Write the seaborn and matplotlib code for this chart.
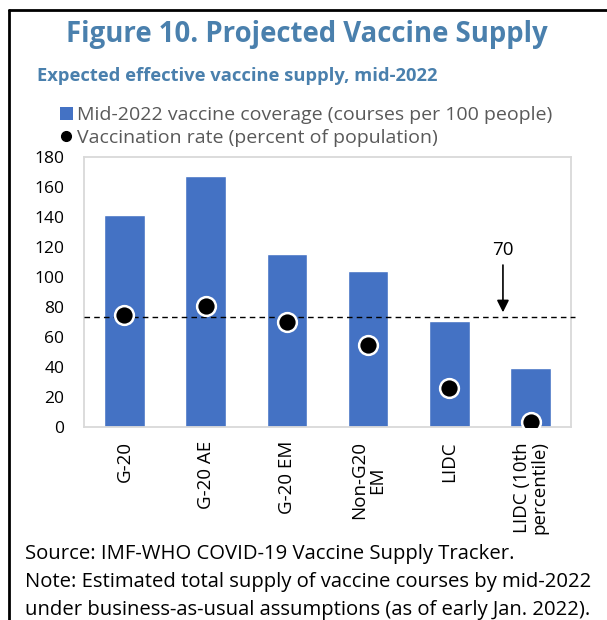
import numpy as np
import pandas as pd
import seaborn as sns
import matplotlib.pyplot as plt
from matplotlib.lines import Line2D
from matplotlib.patches import Patch

# données
groupes = ['G-20', 'G-20 AE', 'G-20 EM', 'Non-G20\nEM', 'LIDC', 'LIDC (10th\npercentile)']
couverture = [141, 167, 115, 104, 71, 39.5]
taux_vaccination = [75, 81, 70, 54.5, 26, 3.5]
cible = 70
ligne_cible = 73.5

bleu_barre = '#4472C4'
bleu_titre = '#4A80AD'

df = pd.DataFrame({'groupe': groupes, 'couverture': couverture, 'taux': taux_vaccination})

sns.set_theme(style='white')
plt.rcParams['font.family'] = ['Open Sans', 'DejaVu Sans']

fig = plt.figure(figsize=(6.07, 6.2), dpi=100)
ax = fig.add_axes([0.138, 0.311, 0.803, 0.436])

sns.barplot(data=df, x='groupe', y='couverture', color=bleu_barre, width=0.5,
            saturation=1, ax=ax)
sns.pointplot(data=df, x='groupe', y='taux', color='black', linestyle='none',
              markers='o', markersize=13.5, markeredgecolor='white',
              markeredgewidth=1.8, ax=ax, zorder=5)

ax.axhline(ligne_cible, xmin=0, xmax=1.008, color='black', lw=1,
           ls=(0, (4, 3)), clip_on=False, zorder=4)
ax.annotate(str(cible), xy=(4.66, ligne_cible + 3), xytext=(4.66, 112),
            ha='center', va='bottom', fontsize=13.5, color='black',
            arrowprops=dict(arrowstyle='-|>', color='black', lw=1.2,
                            mutation_scale=18, shrinkA=2, shrinkB=0))

ax.set_ylim(0, 180)
ax.set_xlim(-0.5, 5.5)
ax.set_yticks(range(0, 181, 20))
ax.set_xlabel('')
ax.set_ylabel('')
ax.tick_params(axis='y', labelsize=12.5, length=0, pad=14, colors='black')
ax.tick_params(axis='x', labelsize=13.5, length=0, pad=10, colors='black')
plt.setp(ax.get_xticklabels(), rotation=90, ha='center', va='top',
         multialignment='center', linespacing=1.0)
for s in ax.spines.values():
    s.set_color('#D9D9D9')
    s.set_linewidth(1.3)

# titres
fig.text(0.505, 0.945, 'Figure 10. Projected Vaccine Supply', ha='center', va='center',
         fontsize=19.8, fontweight='bold', color=bleu_titre)
fig.text(0.061, 0.878, 'Expected effective vaccine supply, mid-2022', ha='left', va='center',
         fontsize=13.2, fontweight='bold', color=bleu_titre)

# légende
poignees = [Patch(facecolor=bleu_barre, edgecolor='none'),
            Line2D([], [], marker='o', color='black', ls='none', markersize=7)]
etiquettes = ['Mid-2022 vaccine coverage (courses per 100 people)',
              'Vaccination rate (percent of population)']
leg = fig.legend(poignees, etiquettes, loc='upper left', bbox_to_anchor=(0.099, 0.829),
                 frameon=False, fontsize=14.0, handlelength=0.65, handleheight=0.65,
                 handletextpad=0.2, labelspacing=0.25, borderpad=0, borderaxespad=0)
for t in leg.get_texts():
    t.set_color('#595959')

# source
lignes_source = ['Source: IMF-WHO COVID-19 Vaccine Supply Tracker.',
                 'Note: Estimated total supply of vaccine courses by mid-2022',
                 'under business-as-usual assumptions (as of early Jan. 2022).']
for y, txt in zip([0.0984, 0.0532, 0.0081], lignes_source):
    fig.text(0.041, y, txt, fontsize=14.6, va='baseline', color='black')

# cadre
fig.add_artist(Line2D([0.015, 0.015], [0, 0.984], color='black', lw=2))
fig.add_artist(Line2D([0.015, 1], [0.984, 0.984], color='black', lw=2))

fig.savefig('out.png', dpi=100)
